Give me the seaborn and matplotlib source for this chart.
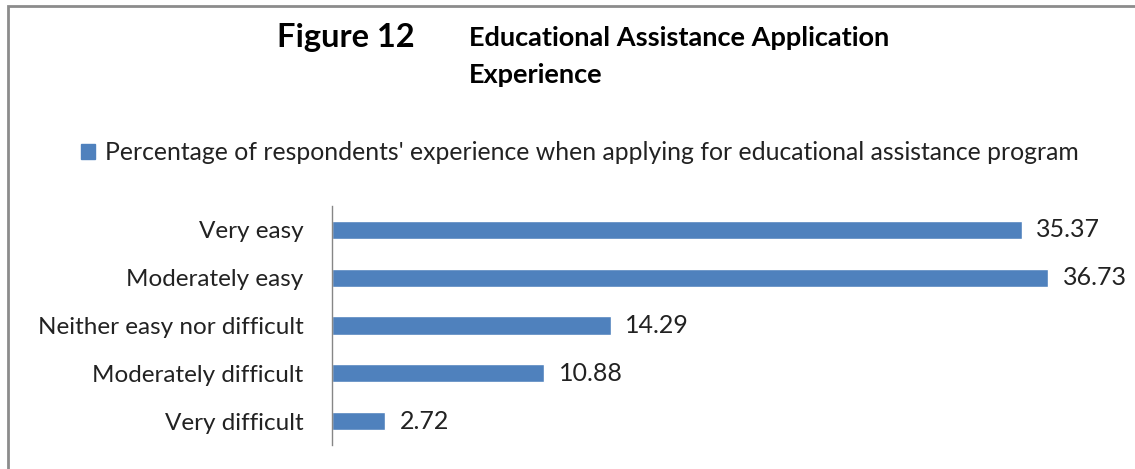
import matplotlib
matplotlib.use("Agg")
import matplotlib.pyplot as plt
import matplotlib.patches as mpatches
import seaborn as sns
import pandas as pd

categories = ["Very easy", "Moderately easy", "Neither easy nor difficult",
              "Moderately difficult", "Very difficult"]
percentages = [35.37, 36.73, 14.29, 10.88, 2.72]
series_name = "Percentage of respondents' experience when applying for educational assistance program"

sns.set_theme(style="white")
plt.rcParams["font.family"] = ["Lato", "DejaVu Sans"]

BAR_COLOR = "#4F81BD"
TEXT_COLOR = "#222222"

df = pd.DataFrame({"category": categories, "value": percentages})

W, H = 1135, 469
fig = plt.figure(figsize=(W / 100, H / 100), dpi=100)
ax = fig.add_axes([332 / W, 1 - 445 / H, (1112 - 332) / W, (445 - 206) / H])

sns.barplot(data=df, x="value", y="category", orient="h", color=BAR_COLOR,
            width=0.38, saturation=1, ax=ax)

ax.set_xlim(0, 40)
ax.set_ylim(4.5, -0.5)
ax.set_xlabel("")
ax.set_ylabel("")
ax.set_xticks([])
for side in ("top", "right", "bottom"):
    ax.spines[side].set_visible(False)
ax.spines["left"].set_color("#868686")
ax.spines["left"].set_linewidth(1.0)
ax.tick_params(axis="y", length=0, pad=20.5, labelsize=17.5, colors=TEXT_COLOR)

for cont in ax.containers:
    ax.bar_label(cont, labels=[f"{v:.2f}" for v in percentages], padding=10.5,
                 fontsize=18, color=TEXT_COLOR)

# outer frame (top and left edges visible)
fig.patches.append(mpatches.Rectangle((8 / W, -0.1), 1.2, 1 - 6 / H + 0.1,
                                      transform=fig.transFigure, fill=False,
                                      edgecolor="#8c8c8c", linewidth=2))

# titles
fig.text(277 / W, 1 - 37 / H, "Figure 12", fontsize=23.5, fontweight="bold",
         color="#000000", va="center", ha="left")
fig.text(469 / W, 1 - 38 / H, "Educational Assistance Application", fontsize=19.5,
         fontweight="bold", color="#000000", va="center", ha="left")
fig.text(469 / W, 1 - 75 / H, "Experience", fontsize=19.5,
         fontweight="bold", color="#000000", va="center", ha="left")

# legend
handle = mpatches.Patch(color=BAR_COLOR, label=series_name)
fig.legend(handles=[handle], loc="center", bbox_to_anchor=(580 / W, 1 - 153 / H),
           frameon=False, fontsize=17.8, handlelength=0.55, handleheight=0.55,
           handletextpad=0.4, labelcolor=TEXT_COLOR)

fig.savefig("out.png", dpi=100, facecolor="white")
